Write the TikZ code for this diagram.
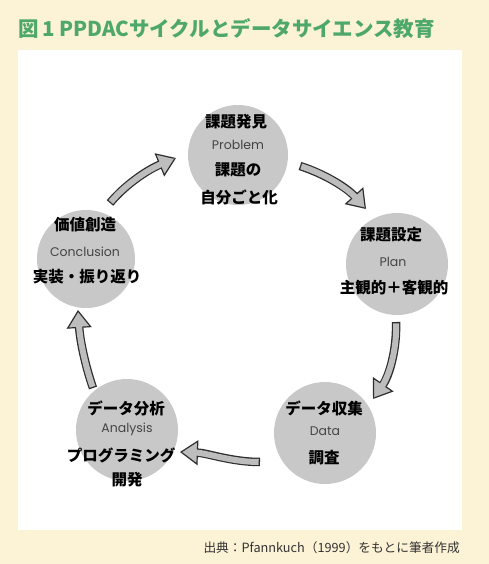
\documentclass[tikz,border=0pt]{standalone}
\usepackage{fontspec}
\usetikzlibrary{arrows.meta}
\newfontfamily\jp{Noto Sans CJK JP}
\newfontfamily\en{Poppins}
\definecolor{cream}{HTML}{FCF2D6}
\definecolor{titlegreen}{HTML}{4EA86B}
\definecolor{bubble}{HTML}{C8C8C8}
\definecolor{arrowline}{HTML}{2E2E2E}
\definecolor{arrowfill}{HTML}{BDBDBD}
\definecolor{engray}{HTML}{444444}
\definecolor{captext}{HTML}{333333}
\begin{document}
\begin{tikzpicture}[x=1pt,y=-1pt,
  bub/.style={circle, fill=bubble, minimum size=#1, inner sep=0pt},
  jl/.style={font=\jp\bfseries\fontsize{15.5}{15.5}\selectfont, text=black, inner sep=0pt},
  el/.style={font=\en\fontsize{12.5}{12.5}\selectfont, text=engray, inner sep=0pt},
  arrowout/.style={draw=arrowline, line width=8.5pt,
    -{Triangle[length=18pt,width=25pt,fill=arrowfill,line width=1.2pt]}},
  arrowin/.style={draw=arrowfill, line width=6pt, shorten <=1.3pt,
    -{Triangle[length=16pt,width=0.5pt,line width=0pt,color=arrowfill]}}]
\useasboundingbox (0,0) rectangle (489,564);
\fill[cream] (0,0) rectangle (489,564);
\fill[white] (18,50) rectangle (462,530);
% title and source
\node[anchor=west, inner sep=0pt, text=titlegreen,
  font=\jp\bfseries\fontsize{20.5}{20.5}\selectfont] (title) at (18,29)
  {図\,1 PPDACサイクルとデータサイエンス教育};
\node[anchor=east, inner sep=0pt, text=captext,
  font=\jp\fontsize{12.7}{12.7}\selectfont] (src) at (460,548)
  {出典：Pfannkuch（1999）をもとに筆者作成};
% bubbles
\node[bub=100pt] (p)  at (238,155) {};
\node[bub=102pt] (pl) at (397,264) {};
\node[bub=102pt] (d)  at (325,433) {};
\node[bub=102pt] (an) at (127,430) {};
\node[bub=98pt]  (co) at (86,259) {};
% arrow end points
\coordinate (a1s) at (300,166); \coordinate (a1e) at (366,209);
\coordinate (a2s) at (396,322); \coordinate (a2e) at (373,399);
\coordinate (a3s) at (260,462); \coordinate (a3e) at (180,452);
\coordinate (a4s) at (93,388);  \coordinate (a4e) at (78,310);
\coordinate (a5s) at (110,203); \coordinate (a5e) at (176,158);
\foreach \st in {arrowout,arrowin}{
  \draw[\st] (a1s) .. controls (325,174) and (347,188) .. (a1e);
  \draw[\st] (a2s) .. controls (397,350) and (389,376) .. (a2e);
  \draw[\st] (a3s) .. controls (232,462) and (207,453) .. (a3e);
  \draw[\st] (a4s) .. controls (85,365) and (80,340) .. (a4e);
  \draw[\st] (a5s) .. controls (125,185) and (147,170) .. (a5e);
}
% texts: Problem
\node[jl] (p1) at (236,122) {課題発見};
\node[el] (p2) at (238,145) {Problem};
\node[jl] (p3) at (238,170) {課題の};
\node[jl] (p4) at (239,197) {自分ごと化};
% Plan
\node[jl] (l1) at (391,235) {課題設定};
\node[el] (l2) at (393,262) {Plan};
\node[jl] (l3) at (394,288) {主観的＋客観的};
% Data
\node[jl] (d1) at (324,408) {データ収集};
\node[el] (d2) at (325,431) {Data};
\node[jl] (d3) at (324,458) {調査};
% Analysis
\node[jl] (n1) at (126,408) {データ分析};
\node[el] (n2) at (127,429) {Analysis};
\node[jl] (n3) at (121,455) {プログラミング};
\node[jl] (n4) at (127,480) {開発};
% Conclusion
\node[jl] (c1) at (85,225) {価値創造};
\node[el] (c2) at (85,252) {Conclusion};
\node[jl] (c3) at (87,277) {実装・振り返り};
\end{tikzpicture}
\end{document}
